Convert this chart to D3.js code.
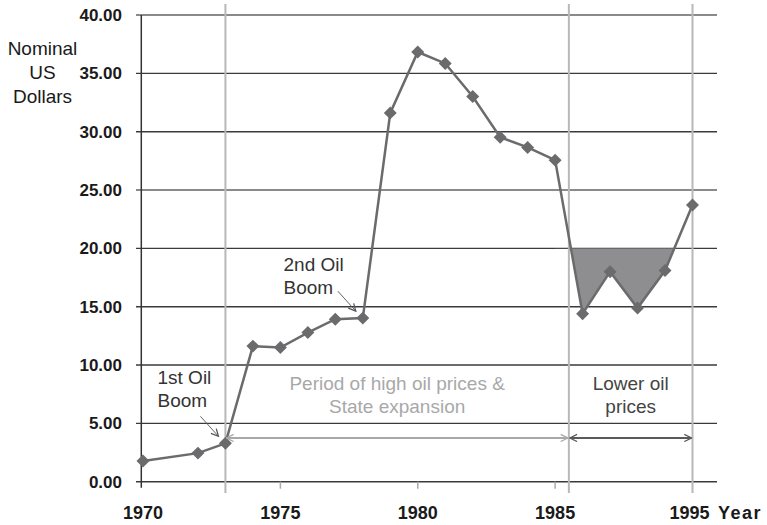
<!DOCTYPE html>
<meta charset="utf-8">
<style>
    body { margin: 0; background: #fff; }
    svg text { font-family: "Liberation Sans", Arial, Helvetica, sans-serif; }
    .ylab, .xlab { font-weight: bold; fill: #1a1a1a; }
    .ylab { font-size: 17px; }
    .xlab { font-size: 18px; }
    .note { font-size: 19px; fill: #333; }
</style>
<svg width="767" height="525"></svg>
<script src="https://cdnjs.cloudflare.com/ajax/libs/d3/7.8.5/d3.min.js"></script>
<script>

    // oil price, nominal US dollars
    var years = [1970, 1972, 1973, 1974, 1975, 1976, 1977, 1978, 1979, 1980,
                 1981, 1982, 1983, 1984, 1985, 1986, 1987, 1988, 1989, 1990];
    var prices = [1.78, 2.45, 3.29, 11.62, 11.50, 12.78, 13.93, 14.02, 31.61, 36.83,
                  35.85, 33.02, 29.52, 28.65, 27.56, 14.40, 18.00, 14.88, 18.10, 23.71];

    var yTicks = [0, 5, 10, 15, 20, 25, 30, 35, 40];
    var yTickLabels = ["0.00", "5.00", "10.00", "15.00", "20.00", "25.00", "30.00", "35.00", "40.00"];
    var xTicks = [1970, 1975, 1980, 1985, 1990];
    var xTickLabels = ["1970", "1975", "1980", "1985", "1995"];
    var guideYears = [1973, 1985.5, 1990];
    var lightGrid = [25, 40];

    var data = years.map(function (d, i) { return {year: d, price: prices[i]}; });

    var svg = d3.select("svg");

    var x = d3.scaleLinear().domain([1970, 1990]).range([143, 692.5]);
    var y = d3.scaleLinear().domain([0, 40]).range([481.7, 15]);

    var left = 136, right = 717;

    // horizontal grid
    svg.append("g").selectAll("line")
        .data(yTicks)
        .enter().append("line")
        .attr("x1", left).attr("x2", right)
        .attr("y1", function (d) { return y(d); })
        .attr("y2", function (d) { return y(d); })
        .attr("stroke", function (d) { return lightGrid.indexOf(d) >= 0 ? "#8a8a8a" : "#3a3a3a"; })
        .attr("stroke-width", function (d) { return lightGrid.indexOf(d) >= 0 ? 2 : 1.4; });

    // left axis line
    svg.append("line")
        .attr("x1", 141.3).attr("x2", 141.3)
        .attr("y1", y(40)).attr("y2", y(0) + 6)
        .attr("stroke", "#333").attr("stroke-width", 1.5);

    // small x ticks
    svg.append("g").selectAll("line")
        .data([1975, 1980, 1985])
        .enter().append("line")
        .attr("x1", function (d) { return x(d); })
        .attr("x2", function (d) { return x(d); })
        .attr("y1", y(0)).attr("y2", y(0) + 7)
        .attr("stroke", "#aaa").attr("stroke-width", 1.5);

    // vertical guide lines
    svg.append("g").selectAll("line")
        .data(guideYears)
        .enter().append("line")
        .attr("x1", function (d) { return x(d); })
        .attr("x2", function (d) { return x(d); })
        .attr("y1", 4).attr("y2", 493)
        .attr("stroke", "#b8b8b8").attr("stroke-width", 2);

    // y labels
    svg.append("g").selectAll("text")
        .data(yTicks)
        .enter().append("text")
        .attr("class", "ylab")
        .attr("x", 122)
        .attr("y", function (d) { return y(d) + 6; })
        .attr("text-anchor", "end")
        .text(function (d, i) { return yTickLabels[i]; });

    // x labels
    svg.append("g").selectAll("text")
        .data(xTicks)
        .enter().append("text")
        .attr("class", "xlab")
        .attr("x", function (d) { return x(d) - (d === 1990 ? 3 : 0); })
        .attr("y", 519)
        .attr("text-anchor", "middle")
        .text(function (d, i) { return xTickLabels[i]; });

    svg.append("text").attr("class", "xlab")
        .attr("x", 718).attr("y", 519)
        .style("letter-spacing", "1.5px")
        .text("Year");

    // y axis title
    var ttl = svg.append("text").attr("class", "note")
        .attr("text-anchor", "middle").style("fill", "#1a1a1a");
    ["Nominal", "US", "Dollars"].forEach(function (t, i) {
        ttl.append("tspan").attr("x", 42.5).attr("y", 55 + i * 24).text(t);
    });

    // shaded area below $20
    svg.append("clipPath").attr("id", "below20")
        .append("rect")
        .attr("x", x(1985)).attr("y", y(20))
        .attr("width", x(1990) - x(1985)).attr("height", y(0) - y(20));

    var area = d3.area()
        .x(function (d) { return x(d.year); })
        .y0(y(20))
        .y1(function (d) { return y(d.price); });

    svg.append("path")
        .datum(data.filter(function (d) { return d.year >= 1985; }))
        .attr("clip-path", "url(#below20)")
        .attr("fill", "#8e8e90")
        .attr("d", area);

    // price line
    var line = d3.line()
        .x(function (d) { return x(d.year); })
        .y(function (d) { return y(d.price); });

    svg.append("path")
        .datum(data)
        .attr("fill", "none")
        .attr("stroke", "#6b6b6d")
        .attr("stroke-width", 2.5)
        .attr("d", line);

    var diamond = d3.symbol().type(d3.symbolSquare).size(84);
    svg.append("g").selectAll("path")
        .data(data)
        .enter().append("path")
        .attr("d", diamond)
        .attr("fill", "#6b6b6d")
        .attr("transform", function (d) {
            return "translate(" + x(d.year) + "," + y(d.price) + ") rotate(45)";
        });

    // arrow markers
    var defs = svg.append("defs");
    function marker(id, color) {
        defs.append("marker")
            .attr("id", id)
            .attr("viewBox", "0 0 10 10")
            .attr("refX", 9).attr("refY", 5)
            .attr("markerWidth", 9).attr("markerHeight", 9)
            .attr("markerUnits", "userSpaceOnUse")
            .attr("orient", "auto-start-reverse")
            .append("path")
            .attr("d", "M1,1 L9,5 L1,9")
            .attr("fill", "none")
            .attr("stroke", color)
            .attr("stroke-width", 1.4);
    }
    marker("arrThin", "#555");
    marker("arrLight", "#a8a8a8");
    marker("arrDark", "#5a5a5a");

    // boom annotations
    var booms = [
        {year: 1973, price: 3.29, lines: ["1st Oil", "Boom"], tx: 157.5, ty: 384},
        {year: 1978, price: 14.02, lines: ["2nd Oil", "Boom"], tx: 283.5, ty: 270.7}
    ];
    booms.forEach(function (b) {
        var t = svg.append("text").attr("class", "note");
        b.lines.forEach(function (s, i) {
            t.append("tspan").attr("x", b.tx).attr("y", b.ty + i * 23).text(s);
        });
        var ex = x(b.year) - 7, ey = y(b.price) - 7;
        svg.append("line")
            .attr("x1", ex - 18).attr("y1", ey - 20)
            .attr("x2", ex).attr("y2", ey)
            .attr("stroke", "#555").attr("stroke-width", 0.9)
            .attr("marker-end", "url(#arrThin)");
    });

    // period spans
    var spans = [
        {from: 1973, to: 1985.5, color: "#a8a8a8", marker: "arrLight",
         lines: ["Period of high oil prices &", "State expansion"], fill: "#a8a8a8"},
        {from: 1985.5, to: 1990, color: "#5a5a5a", marker: "arrDark",
         lines: ["Lower oil", "prices"], fill: "#444"}
    ];
    spans.forEach(function (s) {
        svg.append("line")
            .attr("x1", x(s.from) + 1).attr("x2", x(s.to) - 1)
            .attr("y1", y(3.75)).attr("y2", y(3.75))
            .attr("stroke", s.color).attr("stroke-width", 2)
            .attr("marker-start", "url(#" + s.marker + ")")
            .attr("marker-end", "url(#" + s.marker + ")");
        var t = svg.append("text").attr("class", "note")
            .attr("text-anchor", "middle").style("fill", s.fill);
        s.lines.forEach(function (str, i) {
            t.append("tspan")
                .attr("x", (x(s.from) + x(s.to)) / 2)
                .attr("y", 390 + i * 23.3).text(str);
        });
    });

</script>
